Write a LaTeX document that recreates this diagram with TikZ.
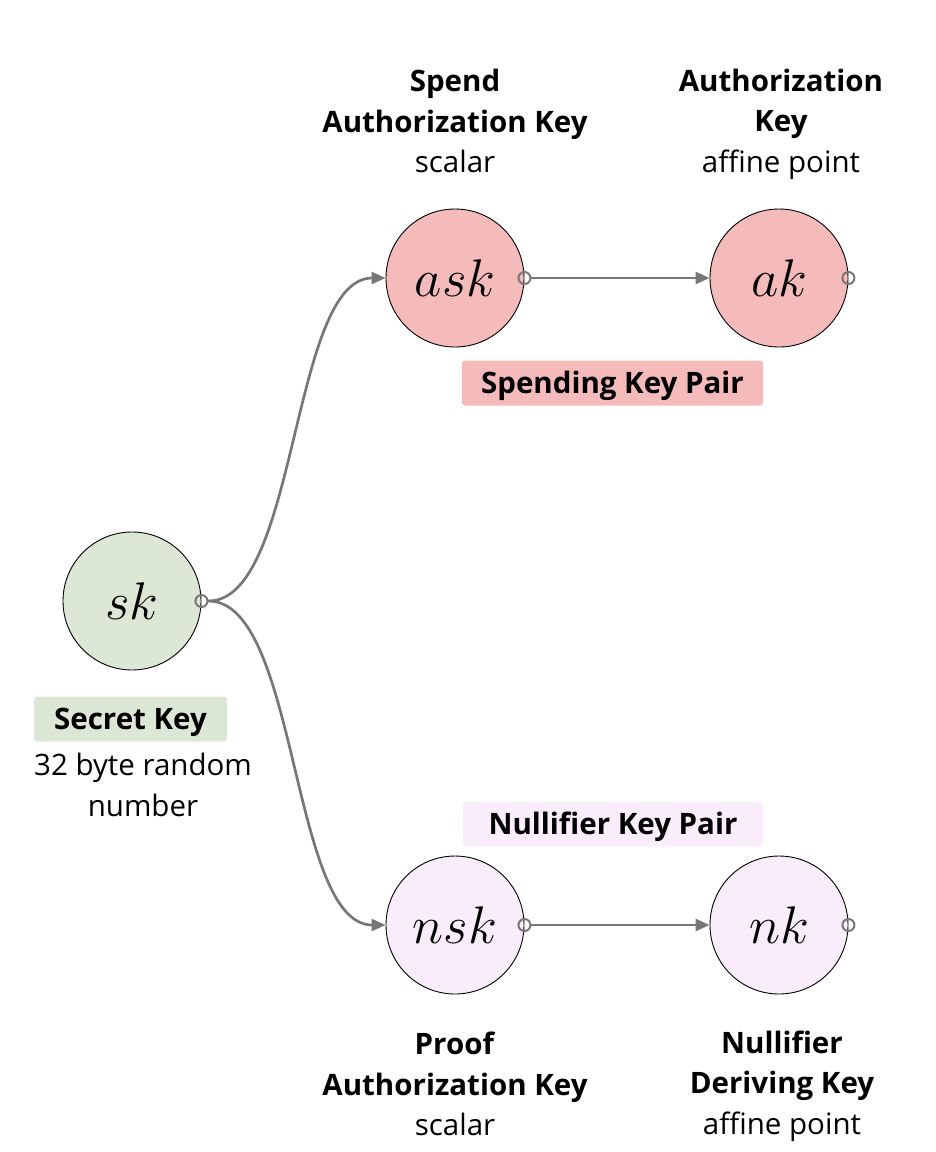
\RequirePackage{fix-cm}
\documentclass[tikz,border=0pt]{standalone}
\usepackage{fontspec}
\setmainfont{Open Sans}
\usetikzlibrary{arrows.meta}
\definecolor{pinkfill}{HTML}{F4BBBA}
\definecolor{greenfill}{HTML}{DCE7D5}
\definecolor{lavfill}{HTML}{F9ECFB}
\definecolor{conn}{HTML}{777777}
\tikzset{
  keynode/.style={circle, draw=black, line width=0.9pt, minimum size=138pt, inner sep=0pt, font=\fontsize{53}{53}\selectfont},
  port/.style={circle, draw=conn, line width=2pt, minimum size=12pt, inner sep=0pt},
  conline/.style={draw=conn, line width=2.7pt, -{Triangle[length=14pt,width=12pt]}},
  lbl/.style={align=center, font=\fontsize{29.5}{40.5}\selectfont, inner sep=0pt},
  tagbox/.style={rounded corners=3pt, minimum height=45pt, inner sep=0pt, text height=21pt, text depth=0pt, font=\fontsize{29.5}{30}\selectfont\bfseries}
}
\begin{document}
\begin{tikzpicture}[x=1pt,y=-1pt]
\useasboundingbox (0,0) rectangle (936,1152);
% key nodes
\node[keynode, fill=greenfill] (sk) at (132,601) {$sk$};
\node[keynode, fill=pinkfill] (ask) at (455,278) {$ask$};
\node[keynode, fill=pinkfill] (ak) at (779,278) {$ak$};
\node[keynode, fill=lavfill] (nsk) at (455,925) {$nsk$};
\node[keynode, fill=lavfill] (nk) at (779,925) {$nk$};
% ports
\node[port] (skp) at (sk.east) {};
\node[port] (askp) at (ask.east) {};
\node[port] (akp) at (ak.east) {};
\node[port] (nskp) at (nsk.east) {};
\node[port] (nkp) at (nk.east) {};
% connectors
\draw[conline] (skp.east) .. controls +(90,0) and +(-95,0) .. (ask.west);
\draw[conline] (skp.east) .. controls +(90,0) and +(-95,0) .. (nsk.west);
\draw[conline] (askp.east) -- (ak.west);
\draw[conline] (nskp.east) -- (nk.west);
% tag boxes
\node[tagbox, fill=pinkfill, minimum width=301pt] (spt) at (612.5,383) {Spending Key Pair};
\node[tagbox, fill=lavfill, minimum width=300pt] (nlt) at (613,824) {Nullifier Key Pair};
\node[tagbox, fill=greenfill, minimum width=193pt] (sct) at (130.5,719) {Secret Key};
% labels
\node[lbl] (asklbl) at (455,121) {\textbf{Spend}\\\textbf{Authorization Key}\\scalar};
\node[lbl] (aklbl) at (781,124) {\textbf{Authorization}\\\textbf{Key}\\affine point};
\node[lbl] (nsklbl) at (455,1084) {\textbf{Proof}\\\textbf{Authorization Key}\\scalar};
\node[lbl] (nklbl) at (782,1086) {\textbf{Nullifier}\\\textbf{Deriving Key}\\affine point};
\node[lbl] (sklbl) at (143,785) {32 byte random\\number};
\end{tikzpicture}
\end{document}
